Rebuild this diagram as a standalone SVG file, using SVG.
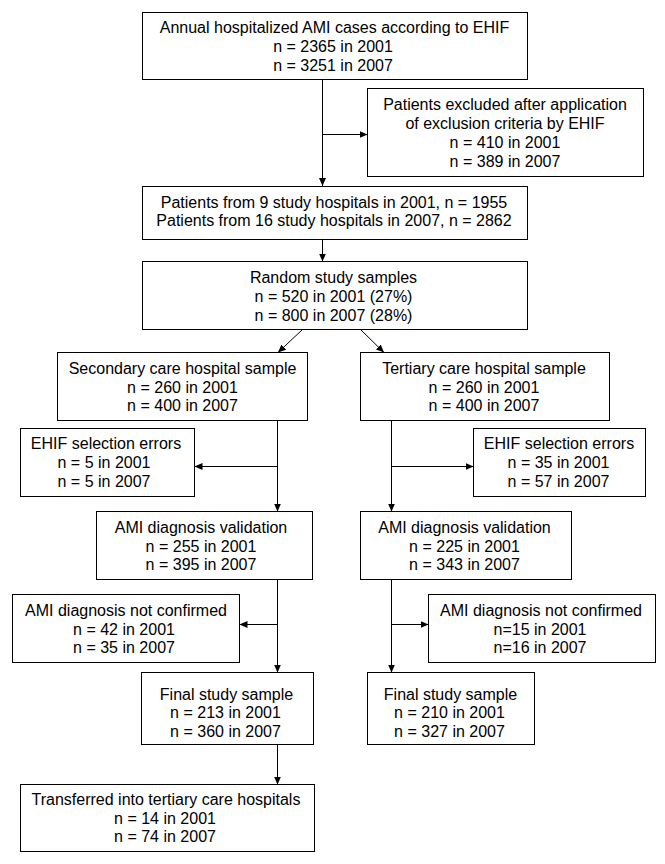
<svg xmlns="http://www.w3.org/2000/svg" width="665" height="864" viewBox="0 0 665 864">
<style>
.box{fill:#fff;stroke:#000;stroke-width:1}
.t{font-family:"Liberation Sans",Arial,sans-serif;font-size:16px;fill:#000;text-anchor:middle}
.c{fill:none;stroke:#000;stroke-width:1}
</style>
<defs>
<marker id="ah" markerUnits="userSpaceOnUse" markerWidth="8" markerHeight="7" refX="8" refY="3.5" orient="auto">
<path d="M0,0 L8,3.5 L0,7 z" fill="#000"/>
</marker>
</defs>
<rect width="665" height="864" fill="#fff"/>
<g id="connectors">
<line class="c" x1="322.5" y1="79.5" x2="322.5" y2="186" marker-end="url(#ah)"/>
<line class="c" x1="322.5" y1="134.5" x2="367.5" y2="134.5" marker-end="url(#ah)"/>
<line class="c" x1="322.5" y1="239.5" x2="322.5" y2="261.5" marker-end="url(#ah)"/>
<line class="c" x1="302.5" y1="329.5" x2="278" y2="352.5" marker-end="url(#ah)"/>
<line class="c" x1="360.5" y1="329.5" x2="384" y2="352.5" marker-end="url(#ah)"/>
<line class="c" x1="277.5" y1="420.5" x2="277.5" y2="511.5" marker-end="url(#ah)"/>
<line class="c" x1="277.5" y1="466.5" x2="194.5" y2="466.5" marker-end="url(#ah)"/>
<line class="c" x1="391.5" y1="420.5" x2="391.5" y2="511.5" marker-end="url(#ah)"/>
<line class="c" x1="391.5" y1="466.5" x2="473.5" y2="466.5" marker-end="url(#ah)"/>
<line class="c" x1="277.5" y1="579.5" x2="277.5" y2="672.5" marker-end="url(#ah)"/>
<line class="c" x1="277.5" y1="624.5" x2="239.5" y2="624.5" marker-end="url(#ah)"/>
<line class="c" x1="391.5" y1="579.5" x2="391.5" y2="672.5" marker-end="url(#ah)"/>
<line class="c" x1="391.5" y1="624.5" x2="428.5" y2="624.5" marker-end="url(#ah)"/>
<line class="c" x1="277.5" y1="744.5" x2="277.5" y2="784.5" marker-end="url(#ah)"/>
</g>
<g id="annual">
<rect class="box" x="142.5" y="12.5" width="385" height="67"/>
<text class="t" x="334.5" y="33">Annual hospitalized AMI cases according to EHIF</text>
<text class="t" x="333" y="52">n = 2365 in 2001</text>
<text class="t" x="333" y="71">n = 3251 in 2007</text>
</g>
<g id="excluded">
<rect class="box" x="367.5" y="88.5" width="276" height="88"/>
<text class="t" x="505" y="109.5">Patients excluded after application</text>
<text class="t" x="505" y="128.5">of exclusion criteria by EHIF</text>
<text class="t" x="505" y="147.5">n = 410 in 2001</text>
<text class="t" x="505" y="166.5">n = 389 in 2007</text>
</g>
<g id="studyhospitals">
<rect class="box" x="142.5" y="186.5" width="385" height="53"/>
<text class="t" x="334" y="207.5">Patients from 9 study hospitals in 2001, n = 1955</text>
<text class="t" x="334" y="226">Patients from 16 study hospitals in 2007, n = 2862</text>
</g>
<g id="random">
<rect class="box" x="142.5" y="261.5" width="385" height="68"/>
<text class="t" x="333.5" y="283">Random study samples</text>
<text class="t" x="333.5" y="302">n = 520 in 2001 (27%)</text>
<text class="t" x="333.5" y="321">n = 800 in 2007 (28%)</text>
</g>
<g id="secondary">
<rect class="box" x="57.5" y="352.5" width="250" height="68"/>
<text class="t" x="182.5" y="374">Secondary care hospital sample</text>
<text class="t" x="182.5" y="392.5">n = 260 in 2001</text>
<text class="t" x="182.5" y="411">n = 400 in 2007</text>
</g>
<g id="tertiary">
<rect class="box" x="360.5" y="352.5" width="249" height="68"/>
<text class="t" x="484" y="374">Tertiary care hospital sample</text>
<text class="t" x="484" y="392.5">n = 260 in 2001</text>
<text class="t" x="484" y="411">n = 400 in 2007</text>
</g>
<g id="ehif-left">
<rect class="box" x="20.5" y="428.5" width="174" height="68"/>
<text class="t" x="106" y="449">EHIF selection errors</text>
<text class="t" x="104" y="468">n = 5 in 2001</text>
<text class="t" x="104" y="487">n = 5 in 2007</text>
</g>
<g id="ehif-right">
<rect class="box" x="473.5" y="428.5" width="172" height="68"/>
<text class="t" x="559" y="449">EHIF selection errors</text>
<text class="t" x="558.5" y="468">n = 35 in 2001</text>
<text class="t" x="558.5" y="487">n = 57 in 2007</text>
</g>
<g id="validation-left">
<rect class="box" x="96.5" y="511.5" width="216" height="68"/>
<text class="t" x="201" y="532.5">AMI diagnosis validation</text>
<text class="t" x="201" y="551.5">n = 255 in 2001</text>
<text class="t" x="201" y="570">n = 395 in 2007</text>
</g>
<g id="validation-right">
<rect class="box" x="360.5" y="511.5" width="211" height="68"/>
<text class="t" x="464.5" y="532.5">AMI diagnosis validation</text>
<text class="t" x="464.5" y="551.5">n = 225 in 2001</text>
<text class="t" x="464.5" y="570">n = 343 in 2007</text>
</g>
<g id="notconfirmed-left">
<rect class="box" x="12.5" y="594.5" width="227" height="68"/>
<text class="t" x="126" y="616">AMI diagnosis not confirmed</text>
<text class="t" x="124" y="634.5">n = 42 in 2001</text>
<text class="t" x="124" y="653">n = 35 in 2007</text>
</g>
<g id="notconfirmed-right">
<rect class="box" x="428.5" y="594.5" width="227" height="68"/>
<text class="t" x="541" y="616">AMI diagnosis not confirmed</text>
<text class="t" x="540" y="634.5">n=15 in 2001</text>
<text class="t" x="540" y="653">n=16 in 2007</text>
</g>
<g id="final-left">
<rect class="box" x="141.5" y="672.5" width="172" height="72"/>
<text class="t" x="226.5" y="699.5">Final study sample</text>
<text class="t" x="225.5" y="718">n = 213 in 2001</text>
<text class="t" x="225.5" y="736.5">n = 360 in 2007</text>
</g>
<g id="final-right">
<rect class="box" x="367.5" y="672.5" width="167" height="72"/>
<text class="t" x="450.5" y="699.5">Final study sample</text>
<text class="t" x="449.5" y="718">n = 210 in 2001</text>
<text class="t" x="449.5" y="736.5">n = 327 in 2007</text>
</g>
<g id="transferred">
<rect class="box" x="20.5" y="784.5" width="294" height="67"/>
<text class="t" x="166" y="805">Transferred into tertiary care hospitals</text>
<text class="t" x="165" y="823.5">n = 14 in 2001</text>
<text class="t" x="165" y="842">n = 74 in 2007</text>
</g>
</svg>
